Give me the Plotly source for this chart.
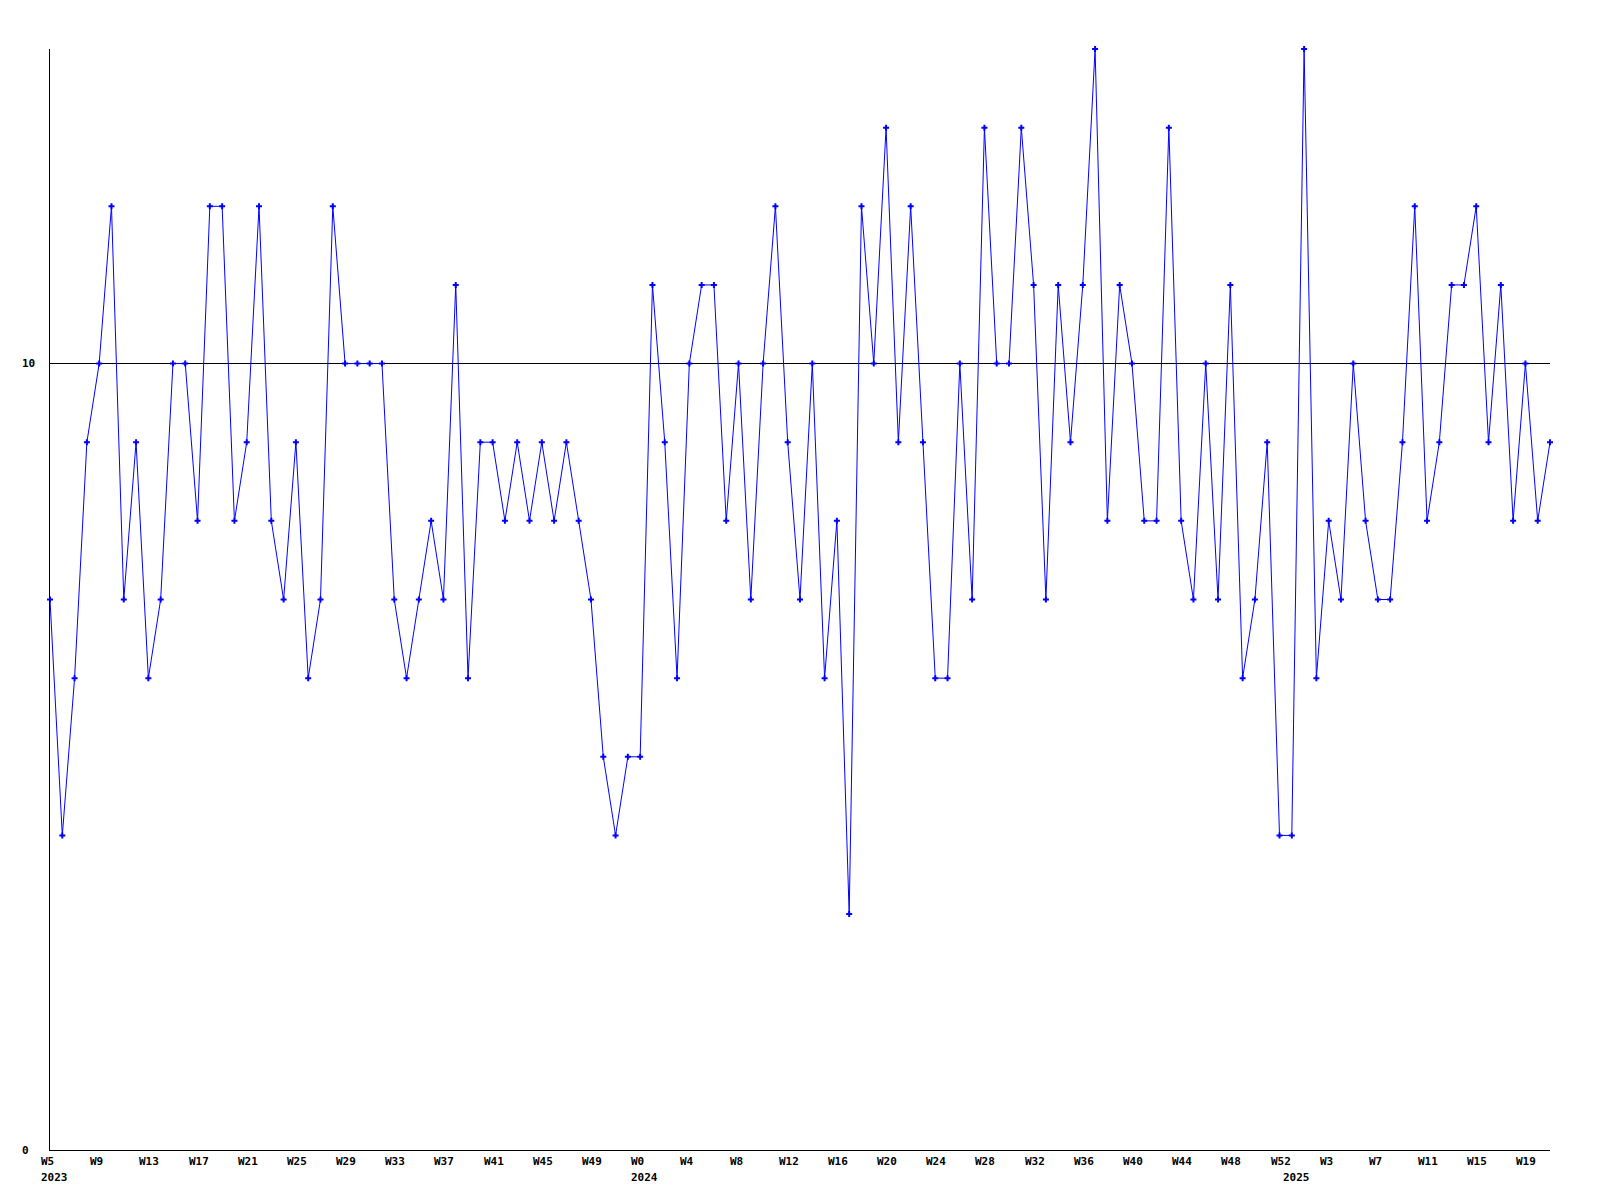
import plotly.graph_objects as go

# ---- data ----
years_2023_weeks = list(range(5, 53))   # W5..W52 2023
years_2024_weeks = list(range(0, 53))   # W0..W52 2024
years_2025_weeks = list(range(0, 22))   # W0..W21 2025

values = [
    7, 4, 6, 9, 10, 12, 7, 9, 6, 7,
    10, 10, 8, 12, 12, 8, 9, 12, 8, 7,
    9, 6, 7, 12, 10, 10, 10, 10, 7, 6,
    7, 8, 7, 11, 6, 9, 9, 8, 9, 8,
    9, 8, 9, 8, 7, 5, 4, 5, 5, 11,
    9, 6, 10, 11, 11, 8, 10, 7, 10, 12,
    9, 7, 10, 6, 8, 3, 12, 10, 13, 9,
    12, 9, 6, 6, 10, 7, 13, 10, 10, 13,
    11, 7, 11, 9, 11, 14, 8, 11, 10, 8,
    8, 13, 8, 7, 10, 7, 11, 6, 7, 9,
    4, 4, 14, 6, 8, 7, 10, 8, 7, 7,
    9, 12, 8, 9, 11, 11, 12, 9, 11, 8,
    10, 8, 9,
]

y_ticks = [0, 10]
y_max = 14

# ---- categories ----
cats = []
week_of = []
year_of = []
for yr, wks in ((2023, years_2023_weeks), (2024, years_2024_weeks), (2025, years_2025_weeks)):
    for w in wks:
        cats.append(f"{yr}-W{w:02d}")
        week_of.append(w)
        year_of.append(yr)

font_family = "DejaVu Sans Mono"
lab_font = dict(family=font_family, size=11, color="black", weight="bold")

fig = go.Figure()
fig.add_trace(go.Scatter(
    x=cats, y=values, mode="lines+markers",
    line=dict(color="#0000FF", width=1),
    marker=dict(symbol="cross", size=5, color="#0000FF"),
    hoverinfo="skip", showlegend=False, cliponaxis=False,
))

annotations = []
# x tick labels every 4 points, left aligned
for i in range(0, len(cats), 4):
    annotations.append(dict(
        x=cats[i], y=0, xref="x", yref="paper", text=f"W{week_of[i]}",
        showarrow=False, xanchor="left", yanchor="middle",
        xshift=-11, yshift=-11, font=lab_font,
    ))
# year labels at first week of each year
seen = set()
for i, yr in enumerate(year_of):
    if yr not in seen:
        seen.add(yr)
        annotations.append(dict(
            x=cats[i], y=0, xref="x", yref="paper", text=str(yr),
            showarrow=False, xanchor="left", yanchor="middle",
            xshift=-11, yshift=-27, font=lab_font,
        ))
# y tick labels, left aligned
for v in y_ticks:
    annotations.append(dict(
        x=0, y=v, xref="paper", yref="y", text=str(v),
        showarrow=False, xanchor="left", yanchor="middle",
        xshift=-30, font=lab_font,
    ))

fig.update_layout(
    width=1600, height=1200,
    margin=dict(l=42, r=58, t=41, b=58),
    paper_bgcolor="white", plot_bgcolor="white",
    annotations=annotations,
    xaxis=dict(
        type="category", categoryorder="array", categoryarray=cats,
        range=[0, len(cats) - 1], showgrid=False, zeroline=False,
        showline=True, linecolor="black", linewidth=1,
        showticklabels=False, ticks="",
    ),
    yaxis=dict(
        range=[0, y_max], tickvals=y_ticks, showticklabels=False, ticks="",
        showgrid=True, gridcolor="black", gridwidth=1, zeroline=False,
        showline=True, linecolor="black", linewidth=1,
    ),
)

fig.write_html("out.html")
